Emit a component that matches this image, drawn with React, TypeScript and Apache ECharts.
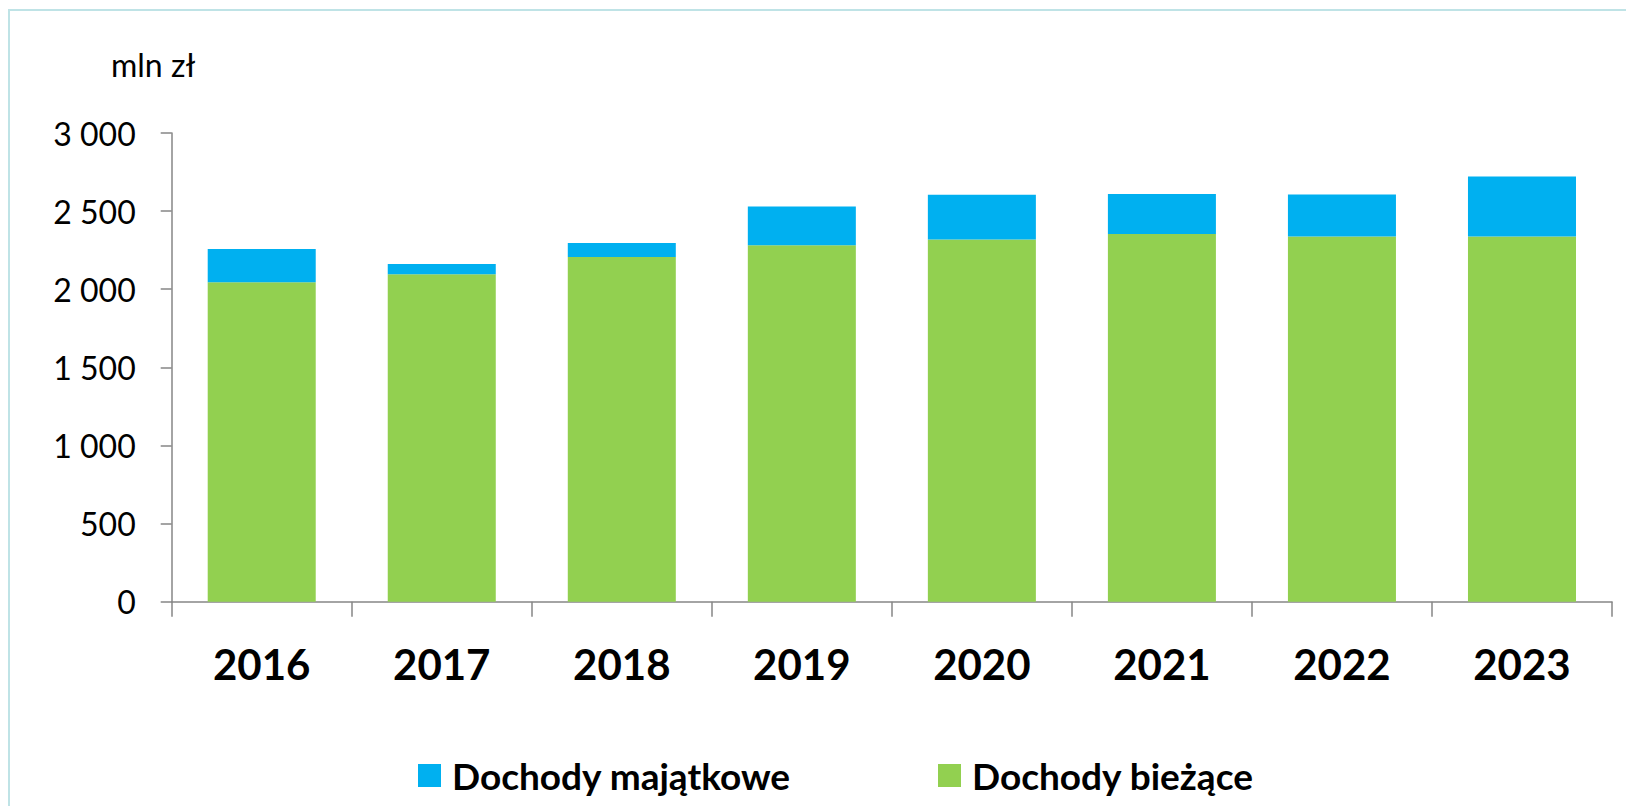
import React, { useEffect, useRef } from "react";
import * as echarts from "echarts";

const years = ["2016", "2017", "2018", "2019", "2020", "2021", "2022", "2023"];
const dochodyBiezace = [2045, 2096, 2206, 2282, 2318, 2354, 2337, 2337];
const dochodyMajatkowe = [213, 66, 90, 248, 287, 255, 270, 384];
const yTicks = [0, 500, 1000, 1500, 2000, 2500, 3000];

const FONT = "Lato";
const AXIS_COLOR = "#868686";

function fmt(v: number): string {
  return String(v).replace(/\B(?=(\d{3})+(?!\d))/g, " ");
}

export default function App() {
  const ref = useRef<HTMLDivElement>(null);
  useEffect(() => {
    document.body.style.margin = "0";
    if (!ref.current) return;
    const chart = echarts.init(ref.current, null, { renderer: "svg" });
    const legendText = {
      fontFamily: FONT,
      fontWeight: "bold",
      fontSize: 37,
      color: "#000000",
      padding: [0, 0, 0, 6],
    };
    chart.setOption({
      animation: false,
      backgroundColor: "#ffffff",
      grid: {
        left: 171.7,
        right: 14,
        top: 133,
        bottom: 204.3,
        containLabel: false,
        outerBoundsMode: "none",
      },
      graphic: [
        {
          type: "rect",
          shape: { x: 9, y: 10, width: 1700, height: 900 },
          style: { fill: "none", stroke: "#bfe3e6", lineWidth: 2 },
          silent: true,
        },
        {
          type: "text",
          x: 111,
          y: 64,
          style: {
            text: "mln zł",
            fontFamily: FONT,
            fontSize: 32,
            fill: "#000000",
            verticalAlign: "middle",
            align: "left",
          },
        },
      ],
      legend: [
        {
          left: 418,
          top: 757,
          padding: 0,
          itemWidth: 23,
          itemHeight: 23,
          icon: "rect",
          data: ["Dochody majątkowe"],
          textStyle: legendText,
        },
        {
          left: 938,
          top: 757,
          padding: 0,
          itemWidth: 23,
          itemHeight: 23,
          icon: "rect",
          data: ["Dochody bieżące"],
          textStyle: legendText,
        },
      ],
      xAxis: {
        type: "category",
        data: years,
        boundaryGap: true,
        axisLine: { show: true, lineStyle: { color: AXIS_COLOR, width: 1.5 } },
        axisTick: {
          show: true,
          length: 15,
          interval: 0,
          alignWithLabel: false,
          lineStyle: { color: AXIS_COLOR, width: 1.5 },
        },
        axisLabel: {
          margin: 41,
          fontFamily: FONT,
          fontWeight: "bold",
          fontSize: 42,
          color: "#000000",
          interval: 0,
        },
        splitLine: { show: false },
      },
      yAxis: {
        type: "value",
        min: yTicks[0],
        max: yTicks[yTicks.length - 1],
        interval: 500,
        axisLine: { show: true, lineStyle: { color: AXIS_COLOR, width: 1.5 } },
        axisTick: { show: true, length: 11, lineStyle: { color: AXIS_COLOR, width: 1.5 } },
        axisLabel: {
          margin: 36,
          fontFamily: FONT,
          fontSize: 32,
          color: "#000000",
          formatter: (v: number) => fmt(v),
        },
        splitLine: { show: false },
      },
      series: [
        {
          name: "Dochody bieżące",
          type: "bar",
          stack: "total",
          barWidth: "60%",
          data: dochodyBiezace,
          itemStyle: { color: "#92D050" },
        },
        {
          name: "Dochody majątkowe",
          type: "bar",
          stack: "total",
          barWidth: "60%",
          data: dochodyMajatkowe,
          itemStyle: { color: "#00B0F0" },
        },
      ],
    });
    return () => chart.dispose();
  }, []);
  return <div ref={ref} style={{ width: 1626, height: 806 }} />;
}
